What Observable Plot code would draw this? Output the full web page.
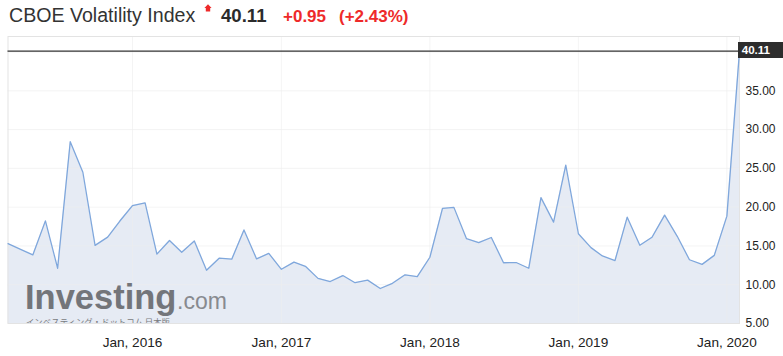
<!DOCTYPE html>
<html><head><meta charset="utf-8">
<script src="https://cdn.jsdelivr.net/npm/d3@7"></script>
<script src="https://cdn.jsdelivr.net/npm/@observablehq/plot@0.6"></script>
<style>
html,body{margin:0;padding:0;background:#fff;font-family:"Liberation Sans",Arial,sans-serif;overflow:hidden}
svg{display:block}
#wrap{position:relative;width:783px;height:356px}
#tag{position:absolute;background:#2d2d2d;color:#fff;font:bold 11.6px "Liberation Sans",Arial,sans-serif;box-sizing:border-box;padding-left:4px;white-space:nowrap}
</style>
</head><body>
<div id="wrap">
<svg id="head" width="783" height="35" font-family="Liberation Sans, Arial, sans-serif">
  <text x="9" y="22" font-size="19.6" fill="#333">CBOE Volatility Index</text>
  <polygon points="208,4.3 211.6,7.9 210.2,7.9 210.2,11.5 205.8,11.5 205.8,7.9 204.4,7.9" fill="#ee2a2a"/>
  <text x="221" y="22" font-size="18.6" font-weight="bold" fill="#2b2b2b">40.11</text>
  <text x="283" y="22" font-size="17" font-weight="bold" fill="#ee2a2a">+0.95</text>
  <text x="339" y="22" font-size="17" font-weight="bold" fill="#ee2a2a">(+2.43%)</text>
</svg>
<div id="chart"></div>
<div id="tag"></div>
</div>
<script>
// Monthly closes, Mar 2015 – Feb 2020
const months = [
  "2015-03","2015-04","2015-05","2015-06","2015-07","2015-08","2015-09","2015-10","2015-11","2015-12",
  "2016-01","2016-02","2016-03","2016-04","2016-05","2016-06","2016-07","2016-08","2016-09","2016-10","2016-11","2016-12",
  "2017-01","2017-02","2017-03","2017-04","2017-05","2017-06","2017-07","2017-08","2017-09","2017-10","2017-11","2017-12",
  "2018-01","2018-02","2018-03","2018-04","2018-05","2018-06","2018-07","2018-08","2018-09","2018-10","2018-11","2018-12",
  "2019-01","2019-02","2019-03","2019-04","2019-05","2019-06","2019-07","2019-08","2019-09","2019-10","2019-11","2019-12",
  "2020-01","2020-02"
];
const values = [
  15.29,14.55,13.84,18.23,12.12,28.43,24.50,15.07,16.13,18.21,
  20.20,20.55,13.95,15.70,14.19,15.63,11.87,13.42,13.29,17.06,13.33,14.04,
  11.99,12.92,12.37,10.82,10.41,11.18,10.26,10.59,9.51,10.18,11.28,11.04,
  13.54,19.85,19.97,15.93,15.43,16.09,12.83,12.86,12.12,21.23,18.07,25.42,
  16.57,14.78,13.71,13.12,18.71,15.08,16.12,18.98,16.24,13.22,12.62,13.78,
  18.84,40.11
];
const yTicks = [5,10,15,20,25,30,35];
const yGrid = [5,10,15,20,25,30,35,40];
const xTickYears = [2016,2017,2018,2019,2020];
const lastValue = 40.11;
const lastLabel = "40.11";

const parse = d3.utcParse("%Y-%m");
const data = months.map((m, i) => ({date: parse(m), value: values[i]}));
const yearTicks = xTickYears.map(y => new Date(Date.UTC(y, 0, 1)));

const W = 783, MR = 44, HEAD = 35;
const chart = Plot.plot({
  width: W,
  height: 321,
  marginLeft: 7.5,
  marginRight: MR,
  marginTop: 1,
  marginBottom: 33,
  style: {fontFamily: "Liberation Sans, Arial, sans-serif", color: "#222", background: "#fff"},
  x: {type: "utc", domain: [parse("2015-03"), parse("2020-02")]},
  y: {domain: [5, 42]},
  marks: [
    Plot.areaY(data, {x: "date", y1: 5, y2: "value", fill: "#e6ebf4", curve: "linear"}),
    Plot.gridY(yGrid, {stroke: "#ececec", strokeOpacity: 0.6}),
    Plot.gridX(yearTicks, {stroke: "#ececec", strokeOpacity: 0.6}),
    Plot.frame({stroke: "#e3e3e3"}),
    Plot.text(["Investing"], {frameAnchor: "bottom-left", dx: 17, dy: -15, lineAnchor: "bottom", textAnchor: "start",
      fontSize: 34.5, fontWeight: "bold", fill: "#73757a", text: d => d}),
    Plot.text([".com"], {frameAnchor: "bottom-left", dx: 169, dy: -15, lineAnchor: "bottom", textAnchor: "start",
      fontSize: 23, fill: "#888a8f", text: d => d}),
    Plot.text(["インベスティング・ドットコム 日本版"], {frameAnchor: "bottom-left", dx: 18, dy: 1.5, lineAnchor: "bottom", textAnchor: "start",
      fontSize: 8.4, fill: "#7a7c81", fontFamily: "Noto Sans CJK JP", clip: "frame", text: d => d}),
    Plot.lineY(data, {x: "date", y: "value", stroke: "#7fa7dc", strokeWidth: 1.3}),
    Plot.ruleY([lastValue], {stroke: "#333", strokeWidth: 1.2}),
    Plot.axisY(yTicks, {anchor: "right", tickSize: 0, tickPadding: 6, fontSize: 12, tickFormat: d => d.toFixed(2), label: null}),
    Plot.axisX(yearTicks, {anchor: "bottom", tickSize: 0, tickPadding: 14, fontSize: 13.6, tickFormat: d => `Jan, ${d.getUTCFullYear()}`, label: null})
  ]
});
document.getElementById("chart").append(chart);

// last-value tag at the right edge, positioned with Plot's own y scale
const ys = chart.scale("y").apply(lastValue);
const x0 = W - MR - 1.3;
const tag = document.getElementById("tag");
tag.textContent = lastLabel;
Object.assign(tag.style, {
  left: x0 + "px",
  top: (HEAD + ys - 8.2) + "px",
  width: (W - x0) + "px",
  height: "15.6px",
  lineHeight: "15.6px"
});
</script>
</body></html>
